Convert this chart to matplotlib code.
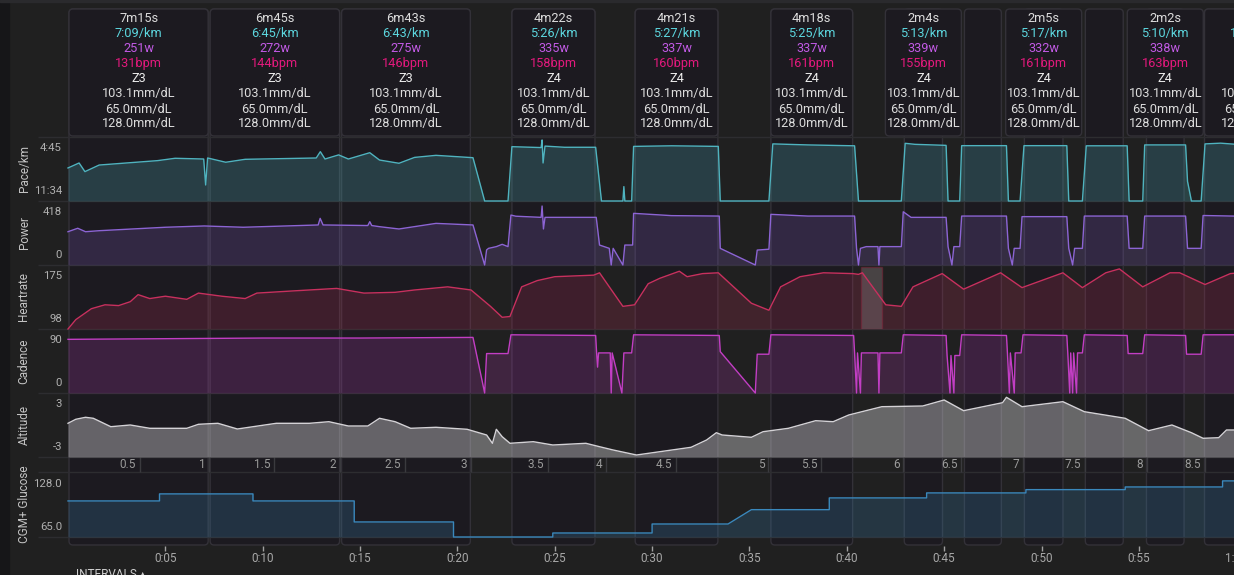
import matplotlib
matplotlib.use('Agg')
import matplotlib.pyplot as plt
from matplotlib.patches import FancyBboxPatch, Rectangle
from matplotlib.transforms import offset_copy

plt.rcParams['font.family'] = ['Roboto', 'DejaVu Sans']

# ---- laps / intervals ----
lap_start = [0.0, 7.25, 14.0, 22.75, 29.08, 36.05, 42.9, 45.99, 49.07, 52.2, 55.34, 58.32]
lap_secs = [435, 405, 403, 262, 261, 258, 124, 120, 125, 123, 122, 333]
lap_time_txt = ['7m15s', '6m45s', '6m43s', '4m22s', '4m21s', '4m18s', '2m4s', '', '2m5s', '', '2m2s', '5m33s']
lap_pace_txt = ['7:09/km', '6:45/km', '6:43/km', '5:26/km', '5:27/km', '5:25/km', '5:13/km', '', '5:17/km', '', '5:10/km', '10:12/km']
lap_power_txt = ['251w', '272w', '275w', '335w', '337w', '337w', '339w', '', '332w', '', '338w', '296w']
lap_hr_txt = ['131bpm', '144bpm', '146bpm', '158bpm', '160bpm', '161bpm', '155bpm', '', '161bpm', '', '163bpm', '158bpm']
lap_zone_txt = ['Z3', 'Z3', 'Z3', 'Z4', 'Z4', 'Z4', 'Z4', '', 'Z4', '', 'Z4', 'Z4']
glucose_txt = ['103.1mm/dL', '65.0mm/dL', '128.0mm/dL']

# ---- pace (sec per km), time in minutes ----
pace_t = [0.0, 0.57, 0.87, 1.6, 4.6, 5.5, 6.97, 7.07, 7.17, 8.1,
          9.1, 12.75, 12.96, 13.2, 13.9, 14.4, 15.5, 16.0, 17.0, 17.8,
          18.9, 20.8, 21.4, 22.6, 22.8, 24.3, 24.35, 24.4, 24.5, 25.5,
          27.1, 27.4, 28.5, 28.55, 28.6, 28.95, 29.05, 31.0, 33.4, 33.5,
          36.0, 36.2, 38.0, 40.4, 40.6, 42.8, 43.0, 43.5, 45.1, 45.2,
          45.8, 45.9, 48.2, 48.3, 48.9, 49.1, 51.3, 51.4, 52.1, 52.3,
          54.4, 54.5, 55.2, 55.3, 57.4, 57.5, 57.7, 58.2, 58.4, 59.2, 60.2]
pace_v = [469, 435, 494, 449, 419, 403, 408, 585, 401, 430,
          410, 401, 358, 408, 380, 408, 365, 415, 437, 397,
          383, 399, 694, 694, 324, 330, 278, 435, 320, 328,
          328, 694, 694, 596, 694, 694, 322, 318, 322, 694,
          694, 305, 312, 318, 694, 694, 301, 308, 315, 694,
          694, 317, 317, 694, 694, 317, 317, 694, 694, 318,
          318, 694, 694, 312, 312, 560, 694, 694, 305, 300, 310]

# ---- power (W) ----
power_t = [0.0, 0.5, 0.9, 1.6, 5.0, 7.0, 9.0, 12.85, 12.95, 13.1,
           15.4, 15.5, 15.6, 16.0, 17.0, 18.9, 20.8, 21.4, 21.5, 21.6,
           22.0, 22.3, 22.6, 22.75, 23.0, 24.3, 24.35, 24.42, 24.5, 27.13,
           27.3, 27.8, 27.9, 28.0, 28.5, 28.6, 29.0, 29.05, 31.0, 33.45,
           33.5, 35.3, 35.4, 36.0, 36.1, 38.0, 40.4, 40.5, 40.6, 40.7,
           41.0, 41.6, 41.65, 41.7, 42.8, 42.9, 43.3, 45.1, 45.2, 45.4,
           45.5, 45.8, 45.9, 48.2, 48.3, 48.5, 48.6, 48.9, 49.0, 51.3,
           51.4, 51.6, 51.7, 52.1, 52.2, 54.4, 54.5, 55.2, 55.3, 57.4,
           57.5, 58.2, 58.3, 60.2]
power_v = [232, 256, 232, 239, 263, 272, 263, 279, 325, 279,
           275, 302, 275, 267, 251, 290, 279, 0, 105, 116,
           128, 144, 128, 348, 340, 332, 411, 251, 332, 332,
           139, 116, 0, 116, 0, 139, 139, 360, 344, 341,
           116, 0, 104, 110, 353, 341, 341, 116, 0, 116,
           128, 128, 0, 128, 128, 371, 332, 332, 128, 0,
           128, 128, 341, 341, 116, 0, 116, 116, 337, 337,
           116, 0, 116, 116, 341, 341, 116, 116, 341, 341,
           116, 116, 345, 340]

# ---- heart rate (bpm) ----
hr_t = [0.0, 0.4, 1.2, 1.9, 2.6, 3.2, 3.6, 4.2, 5.0, 6.1,
        6.7, 7.9, 9.1, 9.7, 11.7, 13.8, 15.2, 16.8, 17.8, 19.5,
        20.7, 21.7, 22.3, 22.7, 23.3, 24.1, 25.0, 27.0, 27.3, 28.5,
        29.1, 29.8, 30.4, 31.4, 31.8, 32.6, 33.4, 35.1, 36.0, 36.6,
        37.6, 38.8, 40.3, 40.6, 40.8, 42.0, 42.8, 43.4, 44.9, 46.0,
        47.9, 49.0, 51.1, 52.1, 53.3, 54.0, 55.2, 56.6, 57.1, 58.4,
        59.7, 60.2]
hr_v = [98, 110, 124, 129, 128, 133, 142, 137, 140, 136,
        144, 140, 137, 144, 147, 150, 144, 145, 148, 152,
        148, 127, 113, 114, 152, 160, 165, 167, 170, 127,
        129, 156, 163, 172, 165, 169, 170, 131, 122, 152,
        165, 170, 169, 168, 170, 129, 127, 152, 169, 149,
        170, 151, 170, 151, 170, 175, 152, 170, 170, 155,
        169, 170]
hr_highlight = [40.73, 41.8]

# ---- cadence (spm) ----
cad_t = [0.0, 5.0, 10.0, 15.0, 20.8, 21.4, 21.5, 22.6, 22.75, 27.1,
         27.15, 27.2, 27.25, 27.85, 27.9, 27.95, 28.45, 28.55, 28.95, 29.05,
         33.45, 33.5, 35.3, 35.4, 36.0, 36.1, 40.35, 40.4, 40.5, 40.55,
         40.7, 40.75, 41.6, 41.65, 41.7, 42.8, 42.9, 45.1, 45.15, 45.3,
         45.35, 45.5, 45.55, 45.8, 45.9, 48.2, 48.25, 48.35, 48.4, 48.6,
         48.65, 48.95, 49.05, 51.3, 51.35, 51.45, 51.5, 51.6, 51.65, 51.8,
         51.85, 52.1, 52.2, 54.4, 54.45, 55.2, 55.3, 57.4, 57.45, 58.2,
         58.3, 60.2]
cad_v = [83, 84, 85, 85, 86, 0, 61, 61, 90, 89,
         62, 40, 62, 62, 0, 62, 0, 62, 62, 90,
         89, 64, 0, 60, 60, 90, 89, 62, 0, 62,
         0, 62, 62, 0, 62, 62, 90, 89, 58, 0,
         58, 0, 58, 58, 90, 89, 62, 0, 62, 0,
         62, 62, 90, 89, 62, 0, 62, 0, 62, 0,
         62, 62, 90, 89, 61, 61, 90, 89, 60, 60,
         90, 90]

# ---- altitude (m) ----
alt_t = [0.0, 0.4, 0.9, 1.3, 2.2, 3.2, 4.2, 6.1, 6.7, 7.7,
         8.7, 10.7, 12.4, 13.4, 14.4, 15.4, 16.0, 16.8, 17.6, 18.9,
         20.5, 21.5, 21.8, 22.0, 22.3, 22.7, 23.9, 24.9, 26.6, 27.3,
         28.0, 29.2, 30.4, 32.0, 32.8, 33.3, 33.6, 35.1, 35.7, 37.0,
         38.4, 39.3, 40.1, 41.8, 43.9, 45.0, 46.0, 48.0, 48.2, 49.0,
         51.1, 52.2, 54.3, 55.5, 56.7, 57.7, 58.3, 59.1, 59.5, 60.2]
alt_v = [0.37, 0.77, 0.97, 0.87, 0.03, 0.2, -0.13, -0.13, 0.27, 0.37,
         -0.2, 0.37, 0.37, 0.53, 0.1, 0.1, 0.87, 0.53, -0.13, -0.03,
         -0.23, -0.8, -1.63, -0.23, -0.97, -1.63, -1.47, -1.8, -1.63, -1.97,
         -2.3, -2.8, -2.47, -2.03, -1.3, -0.57, -0.8, -1.03, -0.47, -0.13,
         0.63, 0.53, 1.2, 2.03, 2.1, 2.7, 1.63, 2.43, 2.97, 2.03,
         2.53, 1.53, 0.87, -0.37, 0.2, -0.57, -1.13, -1.07, -0.3, -0.3]

# ---- CGM glucose readings (mg/dL): start, held until ----
gl_time = [0.0, 4.7, 9.5, 14.7, 19.8, 24.9, 30.0, 35.1, 39.1, 44.1, 49.2, 54.3, 59.3]
gl_until = [4.7, 9.5, 14.7, 19.8, 24.9, 30.0, 33.9, 39.1, 44.1, 49.2, 54.3, 59.3, 60.2]
gl_val = [105.5, 113.4, 105.5, 81.9, 65.0, 69.5, 79.6, 95.7, 108.9, 114.5, 118.2, 121.2, 128.0]

# ---- distance markers (km) and when they were passed (min) ----
dist_km = [0.5, 1, 1.5, 2, 2.5, 3, 3.5, 4, 4.5, 5, 5.5, 6, 6.5, 7, 7.5, 8, 8.5]
dist_time = [3.70, 7.25, 10.59, 13.98, 17.32, 20.71, 24.67, 27.65, 31.24, 35.97,
             38.69, 42.91, 45.89, 49.07, 52.21, 55.40, 58.38]

time_ticks = [5, 10, 15, 20, 25, 30, 35, 40, 45, 50, 55, 60]

# ---- layout ----
W, H = 1234, 575
X0 = 68            # pixel of t = 0
PPM = 19.47        # pixels per minute
T_MAX = (W - X0) / PPM

BG = '#202020'
CARD = '#1c1a20'
EDGE = '#333138'
SEP = '#2d2d30'
TICK = '#b0b0b0'

fig = plt.figure(figsize=(W / 100, H / 100), dpi=100, facecolor=BG)


def px_axes(x0, y0, x1, y1):
    return fig.add_axes([x0 / W, 1 - y1 / H, (x1 - x0) / W, (y1 - y0) / H])


bg = px_axes(0, 0, W, H)
bg.set_xlim(-X0 / PPM, T_MAX)
bg.set_ylim(H, 0)
bg.axis('off')

fig.add_artist(Rectangle((0, 0), 9 / W, 1, transform=fig.transFigure,
                         color='#161618', zorder=-1))
fig.add_artist(Rectangle((0, 1 - 2 / H), 1, 2 / H, transform=fig.transFigure,
                         color='#2a2a2d', zorder=-1))

rnd = 4 / PPM
box = 'round,pad=0,rounding_size=%f' % rnd
gap = 1 / PPM

# interval bands running down through all panels
for s, sec in zip(lap_start, lap_secs):
    d = sec / 60
    bg.add_patch(FancyBboxPatch((s + gap, 9), d - 2 * gap, 536, boxstyle=box,
                                mutation_aspect=PPM, fc=CARD, ec=EDGE, lw=1, zorder=1))

# header cards
row_colors = ['#dcdcdc', '#5cd6de', '#c15ae4', '#e3197d', '#ececec',
              '#dcdcdc', '#dcdcdc', '#dcdcdc']
for i, (s, sec) in enumerate(zip(lap_start, lap_secs)):
    if not lap_time_txt[i]:
        continue
    d = sec / 60
    w = max(d, 78 / PPM)
    c = s + d / 2
    bg.add_patch(FancyBboxPatch((c - w / 2 + gap, 9), w - 2 * gap, 127, boxstyle=box,
                                mutation_aspect=PPM, fc=CARD, ec=EDGE, lw=1, zorder=2))
    rows = [lap_time_txt[i], lap_pace_txt[i], lap_power_txt[i], lap_hr_txt[i],
            lap_zone_txt[i]] + glucose_txt
    for j, (txt, col) in enumerate(zip(rows, row_colors)):
        bg.text(c, 19 + 15 * j, txt, ha='center', va='center', color=col,
                fontsize=9.2, zorder=3)

# horizontal separators
bg.hlines([136.5, 201, 265, 329, 393, 457, 472, 537], -30 / PPM, T_MAX,
          colors=SEP, lw=1, zorder=4)

# distance strip
bg.vlines(dist_time, 457, 472, colors='#3a3a3e', lw=1, zorder=4)
lbl_tr = offset_copy(bg.transData, fig, x=-4, y=0, units='dots')
for km, t in zip(dist_km, dist_time):
    bg.text(t, 465, '%g' % km, transform=lbl_tr, ha='right', va='center',
            color='#9a9a9a', fontsize=8.5, zorder=5)

# time axis
bg.vlines(time_ticks, 546, 551, colors='#a0a0a0', lw=1, zorder=4)
for m in time_ticks:
    bg.text(m, 558, '%d:%02d' % (m // 60, m % 60), ha='center', va='center',
            color='#a8a8a8', fontsize=8.5, zorder=5)

fig.text(76 / W, 1 - 568 / H, 'INTERVALS \u25b4', ha='left', va='top',
         color='#d0d0d0', fontsize=8.5)


def panel(top, bottom, t, v, ylim, base, color, alpha, title, top_lbl, bot_lbl,
          top_off=11, bot_off=10):
    ax = px_axes(X0, top, W, bottom)
    ax.set_xlim(0, T_MAX)
    ax.set_ylim(*ylim)
    ax.axis('off')
    ax.fill_between(t, v, base, color=color, alpha=alpha, lw=0, zorder=1)
    ax.plot(t, v, color=color, lw=1.0, zorder=3, clip_on=False,
            solid_joinstyle='round')
    ax.text(0, 1, top_lbl, transform=offset_copy(ax.transAxes, fig, x=-6, y=-top_off, units='dots'),
            ha='right', va='center', color=TICK, fontsize=8.2)
    ax.text(0, 0, bot_lbl, transform=offset_copy(ax.transAxes, fig, x=-6, y=bot_off, units='dots'),
            ha='right', va='center', color=TICK, fontsize=8.2)
    fig.text(24 / W, 1 - (top + bottom) / 2 / H, title, rotation=90, ha='center',
             va='center', color='#c4c4c4', fontsize=8.5)
    return ax


panel(137, 201, pace_t, pace_v, (694, 258), 694, '#4fb3bf', 0.24, 'Pace/km', '4:45', '11:34')
panel(201, 265, power_t, power_v, (0, 446), 0, '#8c64d4', 0.20, 'Power', '418', '0')
ax_hr = panel(265, 329, hr_t, hr_v, (98, 180), 98, '#c8305e', 0.20, 'Heartrate', '175', '98')
ax_hr.axvspan(hr_highlight[0], hr_highlight[1], ymin=0.0, ymax=0.97,
              fc='#7a6e72', alpha=0.45, ec='#8a2038', lw=1, zorder=2)
panel(329, 393, cad_t, cad_v, (0, 99), 0, '#c23ec4', 0.20, 'Cadence', '90', '0')
panel(393, 457, alt_t, alt_v, (-3, 3.4), -3, '#d4d2d6', 0.40, 'Altitude', '3', '-3')

gx, gy = [], []
for t0, t1, val in zip(gl_time, gl_until, gl_val):
    gx += [t0, t1]
    gy += [val, val]
panel(472, 537, gx, gy, (65, 138), 65, '#3a88bc', 0.22, 'CGM+ Glucose', '128.0', '65.0',
      top_off=12, bot_off=10)

fig.savefig('out.png', dpi=100, facecolor=BG)
